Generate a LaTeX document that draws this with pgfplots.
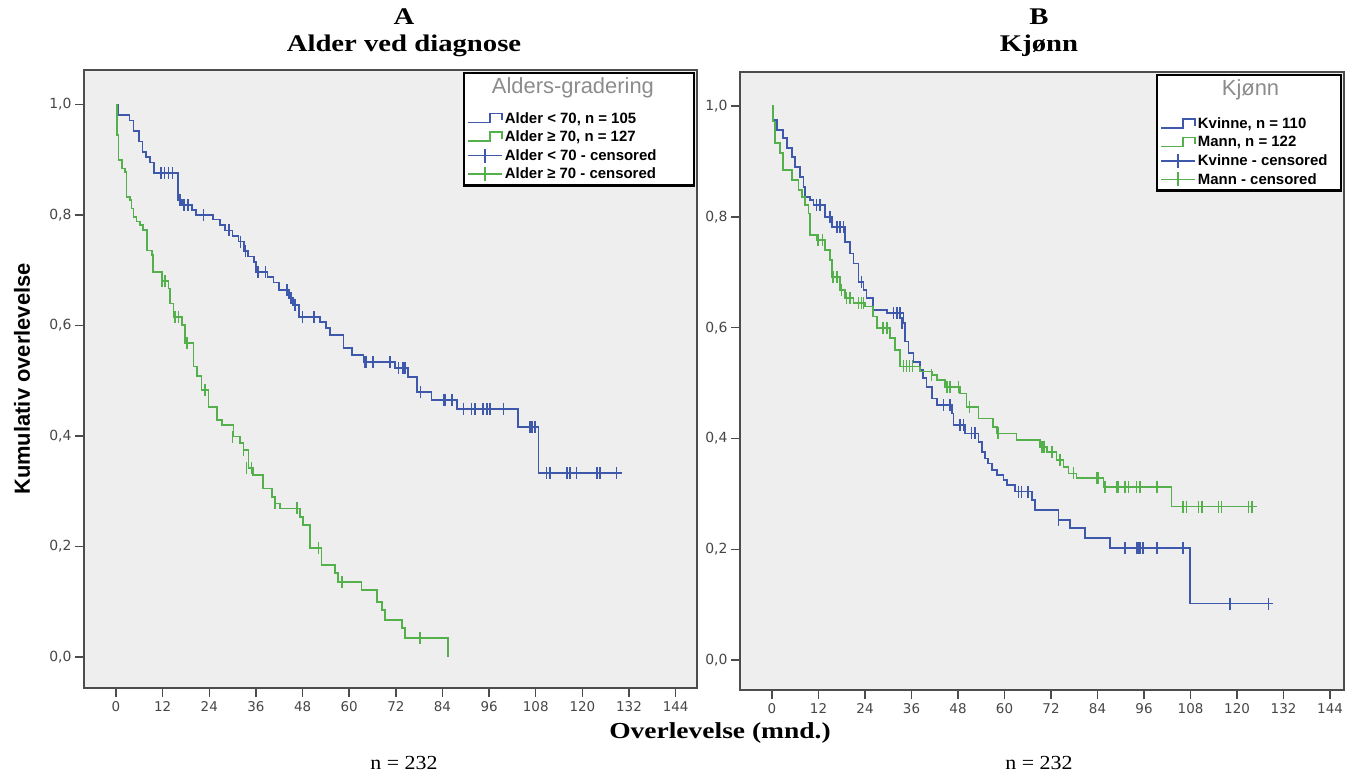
\documentclass[border=0pt]{standalone}
\usepackage{fontspec}
\setmainfont{Liberation Serif}
\newfontfamily\arialfont{Liberation Sans}
\newfontfamily\tickfont{DejaVu Sans}
\newfontfamily\cambfont[FakeStretch=1.2]{Liberation Serif}
\newfontfamily\cambregfont[FakeStretch=1.1]{Liberation Serif}
\usepackage{pgfplots}
\pgfplotsset{compat=1.18}
\definecolor{kmblue}{RGB}{62,88,172}
\definecolor{kmgreen}{RGB}{84,176,74}
\definecolor{plotbg}{RGB}{238,238,238}
\definecolor{tickgray}{RGB}{70,70,70}

\pgfplotsset{
  kmaxis/.style={
    scale only axis, height=618bp,
    axis background/.style={fill=plotbg},
    axis line style={draw=black!70, line width=1.6bp},
    xtick={0,12,...,144}, ytick={0,0.2,...,1.0},
    tick align=outside, xtick pos=bottom, ytick pos=left,
    major tick length=9bp,
    tick style={draw=black!70, line width=1.5bp},
    /pgf/number format/assume math mode=true,
    x tick label style={font=\tickfont\fontsize{13.5}{13.5}\selectfont, text=tickgray, yshift=-1bp},
    y tick label style={font=\tickfont\fontsize{14}{14}\selectfont, text=tickgray,
      /pgf/number format/.cd, fixed, fixed zerofill, precision=1, use comma},
    legend style={at={(1,1)}, anchor=north east, xshift=-2bp, yshift=-2bp,
      draw=black, line width=2.2bp, fill=white,
      font=\arialfont\bfseries\fontsize{15}{17}\selectfont,
      row sep=2.3bp, inner xsep=3bp, inner ysep=3bp},
    legend cell align=left,
  },
  bline/.style={kmblue, line width=1.7bp, const plot, mark=none},
  gline/.style={kmgreen, line width=1.7bp, const plot, mark=none},
  bcens/.style={kmblue, only marks, mark=|, mark size=6bp, mark options={line width=1.6bp}},
  gcens/.style={kmgreen, only marks, mark=|, mark size=6bp, mark options={line width=1.6bp}},
  blineleg/.style={legend image code/.code={\draw[kmblue,line width=1.6bp] (0bp,-4bp) -- (22bp,-4bp) -- (22bp,5bp) -- (34bp,5bp) -- (34bp,-2bp);}},
  glineleg/.style={legend image code/.code={\draw[kmgreen,line width=1.6bp] (0bp,-4bp) -- (22bp,-4bp) -- (22bp,5bp) -- (34bp,5bp) -- (34bp,-2bp);}},
  bcensleg/.style={legend image code/.code={\draw[kmblue,line width=1.6bp] (0bp,0bp) -- (34bp,0bp); \draw[kmblue,line width=1.6bp] (17bp,-7bp) -- (17bp,7bp);}},
  gcensleg/.style={legend image code/.code={\draw[kmgreen,line width=1.6bp] (0bp,0bp) -- (34bp,0bp); \draw[kmgreen,line width=1.6bp] (17bp,-7bp) -- (17bp,7bp);}},
}

\begin{document}
\begin{tikzpicture}
\path (0,0) rectangle (1348bp,774bp);

% ---------------- Panel A ----------------
\begin{axis}[kmaxis, width=613bp, at={(84bp,86bp)}, anchor=south west,
  xmin=-8.24, xmax=149.5, ymin=-0.0561, ymax=1.0625]
\addlegendimage{empty legend}
\addlegendentry{\hspace*{-13bp}{\arialfont\mdseries\fontsize{22}{24}\selectfont\textcolor{black!45}{Alders-gradering}}}
\addlegendimage{empty legend}
\addlegendentry{\fontsize{4}{4}\selectfont\strut}
\addplot[bline, blineleg] coordinates {
(0,1.0) (0.5,0.981) (3.5,0.971) (4.5,0.952) (6,0.933) (6.8,0.914) (7.8,0.905) (8.8,0.895)
(9.8,0.876) (16,0.827) (17,0.818) (19.5,0.809) (20.5,0.800) (25,0.792) (26.8,0.782)
(28,0.772) (30,0.762) (31.5,0.752) (33,0.735) (34,0.725) (35.5,0.715) (36,0.697)
(39,0.688) (40.5,0.678) (42,0.664) (44.5,0.650) (45.5,0.637) (47,0.615) (52.5,0.606)
(54,0.595) (55,0.583) (58.5,0.559) (60.7,0.547) (63.7,0.534) (71.8,0.523) (75.2,0.507)
(77.4,0.480) (81.2,0.465) (87.7,0.449) (103.5,0.416) (108.7,0.333) (130.1,0.333)};
\addlegendentry{Alder < 70, n = 105}
\addplot[gline, glineleg] coordinates {
(0,1.0) (0.3,0.945) (0.6,0.900) (1.5,0.884) (2.3,0.878) (2.7,0.833) (3.6,0.827)
(4.0,0.812) (4.5,0.797) (5.3,0.788) (6.2,0.782) (7.0,0.773) (7.9,0.736) (9.2,0.727)
(9.6,0.697) (11.8,0.680) (13.5,0.667) (13.9,0.640) (14.8,0.616) (16.9,0.601)
(17.8,0.568) (19.9,0.526) (20.8,0.508) (22.0,0.483) (23.8,0.453) (25.9,0.429)
(27.2,0.420) (30.2,0.399) (31.9,0.387) (32.8,0.375) (34.1,0.342) (35.3,0.330)
(37.9,0.305) (40.1,0.290) (40.9,0.278) (42.2,0.269) (47.4,0.254) (48.2,0.239)
(49.9,0.197) (52.9,0.167) (56.4,0.152) (57.2,0.136) (63.2,0.121) (67.1,0.100)
(68.4,0.085) (69.2,0.067) (73.5,0.052) (74.4,0.034) (85.5,0.0)};
\addlegendentry{Alder ≥ 70, n = 127}
\addplot[bcens, bcensleg] coordinates {
(11.5,0.876) (12.5,0.876) (13.5,0.876) (14.5,0.876) (16.5,0.827) (17.5,0.818) (18.5,0.818)
(22.5,0.800) (29,0.772) (32,0.752) (33.3,0.735) (36.5,0.697) (38.5,0.697) (44,0.664)
(45,0.650) (46,0.637) (48,0.615) (51,0.615) (64.1,0.534) (64.5,0.534) (66.2,0.534)
(70.5,0.534) (72.7,0.523) (73.9,0.523) (74.4,0.523) (78.3,0.480) (84.3,0.465) (84.7,0.465)
(86.4,0.465) (89.4,0.449) (91.5,0.449) (92.4,0.449) (94.5,0.449) (95.4,0.449) (96.2,0.449)
(99.7,0.449) (106.5,0.416) (107,0.416) (107.8,0.416) (110.8,0.333) (111.7,0.333)
(116,0.333) (116.8,0.333) (118.5,0.333) (123.7,0.333) (124.5,0.333) (128.8,0.333)};
\addlegendentry{Alder < 70 - censored}
\addplot[gcens, gcensleg] coordinates {
(11.8,0.680) (12.6,0.680) (15.2,0.616) (16.1,0.616) (18.2,0.568) (22.9,0.483) (30,0.399)
(32.8,0.375) (33.6,0.342) (34.9,0.342) (40.9,0.278) (46.5,0.269) (52.1,0.197)
(58.1,0.136) (78.2,0.034)};
\addlegendentry{\makebox[184bp][l]{Alder ≥ 70 - censored}}
\end{axis}

% ---------------- Panel B ----------------
\begin{axis}[kmaxis, width=604bp, at={(740bp,84bp)}, anchor=south west,
  xmin=-8.26, xmax=147.6, ymin=-0.054, ymax=1.0614]
\addlegendimage{empty legend}
\addlegendentry{\hspace*{24bp}{\arialfont\mdseries\fontsize{22}{24}\selectfont\textcolor{black!45}{Kjønn}}}
\addlegendimage{empty legend}
\addlegendentry{\fontsize{9}{9}\selectfont\strut}
\addplot[bline, blineleg] coordinates {
(0,1.0) (0.2,0.975) (1.2,0.957) (2.9,0.942) (3.8,0.924) (5.1,0.908) (5.9,0.890)
(7.2,0.872) (8.1,0.854) (8.5,0.836) (9.8,0.830) (10.7,0.821) (13.7,0.800) (15.4,0.782)
(18.8,0.755) (20.1,0.734) (21.0,0.716) (22.3,0.683) (23.6,0.668) (24.4,0.653)
(26.1,0.632) (29.6,0.626) (33.9,0.608) (34.3,0.575) (35.2,0.554) (36.5,0.538)
(38.2,0.524) (39.0,0.509) (39.9,0.493) (41.2,0.472) (42.5,0.460) (46.4,0.445)
(46.8,0.424) (49.8,0.409) (53.3,0.394) (54.1,0.376) (55.0,0.364) (55.8,0.355)
(56.7,0.343) (58.0,0.334) (59.7,0.325) (60.6,0.316) (62.7,0.304) (67.0,0.289)
(67.9,0.271) (73.9,0.253) (76.9,0.238) (80.8,0.220) (87.2,0.202) (107.9,0.102)
(129.4,0.102)};
\addlegendentry{Kvinne, n = 110}
\addplot[gline, glineleg] coordinates {
(0,1.0) (0.2,0.972) (0.8,0.933) (2.1,0.915) (2.9,0.885) (5.1,0.867) (6.8,0.849)
(7.7,0.836) (8.5,0.821) (9.4,0.806) (9.8,0.767) (11.5,0.758) (13.7,0.740) (15.0,0.722)
(15.4,0.692) (17.5,0.668) (18.8,0.653) (21.0,0.644) (24.0,0.638) (26.1,0.620)
(27.0,0.599) (30.4,0.581) (31.7,0.560) (33.0,0.530) (38.2,0.521) (41.2,0.515)
(42.5,0.506) (44.7,0.493) (48.5,0.481) (50.2,0.457) (53.3,0.436) (57.1,0.421)
(58.0,0.409) (63.1,0.397) (69.1,0.385) (70.9,0.376) (73.4,0.361) (75.2,0.349)
(76.5,0.337) (78.6,0.328) (85.5,0.313) (103.1,0.277) (125.1,0.277)};
\addlegendentry{Mann, n = 122}
\addplot[bcens, bcensleg] coordinates {
(11.5,0.821) (12.4,0.821) (15.0,0.800) (16.7,0.782) (17.5,0.782) (18.4,0.782) (23.1,0.683)
(31.3,0.626) (32.2,0.626) (33.0,0.626) (33.5,0.608) (44.2,0.460) (45.9,0.460) (48.5,0.424)
(49.4,0.424) (51.5,0.409) (52.4,0.409) (63.6,0.304) (64.4,0.304) (66.1,0.304) (73.9,0.253)
(91.1,0.202) (94.1,0.202) (94.5,0.202) (95.0,0.202) (95.8,0.202) (99.3,0.202) (106.1,0.202)
(118.2,0.102) (128.1,0.102)};
\addlegendentry{\makebox[138bp][l]{Kvinne - censored}}
\addplot[gcens, gcensleg] coordinates {
(11.9,0.758) (13.0,0.758) (15.8,0.692) (16.7,0.692) (17.9,0.668) (19.2,0.653) (20.1,0.653)
(22.3,0.644) (23.1,0.644) (23.6,0.644) (28.7,0.599) (29.6,0.599) (33.9,0.530) (34.7,0.530)
(35.5,0.530) (36.3,0.530) (41.2,0.515) (45.1,0.493) (45.9,0.493) (48.1,0.493) (51.0,0.457)
(58.3,0.409) (69.6,0.385) (70.2,0.385) (72.2,0.376) (74.3,0.361) (77.8,0.337) (83.8,0.328)
(84.2,0.328) (85.9,0.313) (89.0,0.313) (89.4,0.313) (91.1,0.313) (92.0,0.313) (94.1,0.313)
(95.0,0.313) (99.3,0.313) (106.1,0.277) (107.0,0.277) (110.0,0.277) (110.9,0.277)
(115.2,0.277) (116.0,0.277) (123.0,0.277) (123.8,0.277)};
\addlegendentry{Mann - censored}
\end{axis}

% ---------------- Titles and labels ----------------
\node[font=\cambfont\bfseries\fontsize{24}{24}\selectfont] at (404bp,757bp) {A};
\node[font=\cambfont\bfseries\fontsize{24}{24}\selectfont] at (404bp,728bp) {Alder ved diagnose};
\node[font=\cambfont\bfseries\fontsize{24}{24}\selectfont] at (1039bp,757bp) {B};
\node[font=\cambfont\bfseries\fontsize{24}{24}\selectfont] at (1039bp,728bp) {Kjønn};
\node[font=\cambfont\bfseries\fontsize{23}{23}\selectfont] at (720bp,41bp) {Overlevelse (mnd.)};
\node[font=\cambregfont\fontsize{20}{20}\selectfont] at (404bp,11bp) {n = 232};
\node[font=\cambregfont\fontsize{20}{20}\selectfont] at (1039bp,11bp) {n = 232};
\node[rotate=90, font=\arialfont\bfseries\fontsize{22}{22}\selectfont] at (22bp,395bp) {Kumulativ overlevelse};
\end{tikzpicture}
\end{document}
